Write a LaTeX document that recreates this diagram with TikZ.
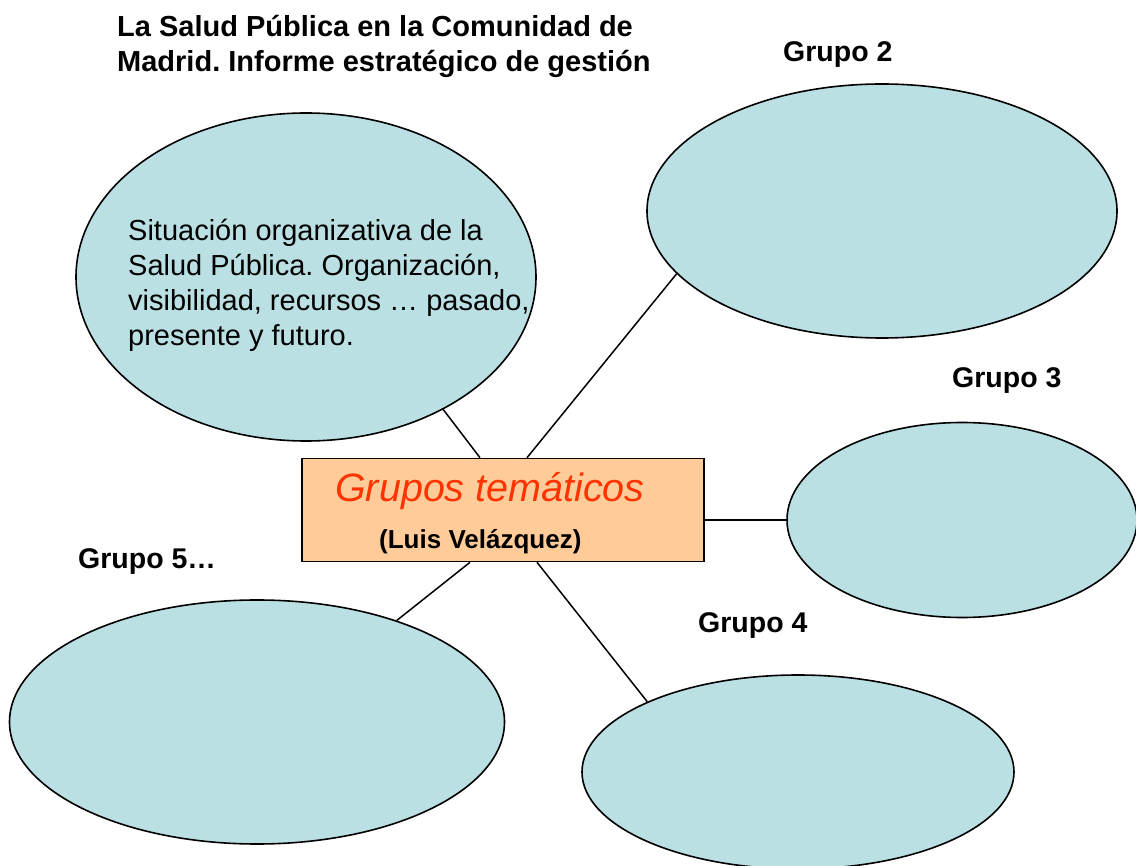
\documentclass[tikz,border=0pt]{standalone}
\usepackage{fontspec}
\setmainfont{Liberation Sans}
\usetikzlibrary{shapes.geometric}
\frenchspacing

\definecolor{grupofill}{HTML}{BBE0E3}
\definecolor{temafill}{HTML}{FFCC99}
\definecolor{temarojo}{HTML}{FF3300}

\begin{document}
\begin{tikzpicture}[x=1pt,y=-1pt,
    grupo/.style={ellipse,draw,line width=1.6pt,fill=grupofill,inner sep=0pt},
    etiqueta/.style={font=\fontsize{28.5}{34}\selectfont\bfseries,inner sep=0pt,anchor=base west},
    enlace/.style={line width=1.5pt}]
    \useasboundingbox (0,0) rectangle (1136,866);
    \node[grupo,minimum width=460pt,minimum height=328pt] (g1) at (306,277) {};
    \node[grupo,minimum width=470pt,minimum height=254pt] (g2) at (882,211) {};
    \node[grupo,minimum width=350pt,minimum height=195pt] (g3) at (962,520) {};
    \node[grupo,minimum width=432pt,minimum height=194pt] (g4) at (798,772) {};
    \node[grupo,minimum width=495pt,minimum height=244pt] (g5) at (257,722) {};
    \node[draw,line width=1.6pt,fill=temafill,inner sep=0pt,
      minimum width=402pt,minimum height=103pt] (tema) at (503,510) {};
    \node[anchor=base west,inner sep=0pt,text=temarojo,
      font=\fontsize{39.5}{46}\selectfont\itshape] (temas) at (335,502) {Grupos temáticos};
    \node[anchor=base west,inner sep=0pt,
      font=\fontsize{26}{31}\selectfont\bfseries] (autor) at (379,548) {(Luis Velázquez)};
    \node[anchor=north west,align=left,inner sep=0pt,
      font=\fontsize{29}{35}\selectfont] (g1texto) at (128,218.5)
      {Situación organizativa de la\\Salud Pública. Organización,\\visibilidad, recursos … pasado,\\presente y futuro.};
    \node[anchor=north west,align=left,inner sep=0pt,
      font=\fontsize{29}{35}\selectfont\bfseries] (titulo) at (117,15.5)
      {La Salud Pública en la Comunidad de\\Madrid. Informe estratégico de gestión};
    \node[etiqueta] (e2) at (783,62) {Grupo 2};
    \node[etiqueta] (e3) at (952,388) {Grupo 3};
    \node[etiqueta] (e4) at (698,632) {Grupo 4};
    \node[etiqueta] (e5) at (78,568) {Grupo 5…};
    \draw[enlace] ([xshift=-23pt]tema.north) -- (g1.-44.6);
    \draw[enlace] ([xshift=24pt]tema.north) -- (g2.-163.3);
    \draw[enlace] (g3.west -| tema.east) -- (g3.west);
    \draw[enlace] ([xshift=34pt]tema.south) -- (g4.155.4);
    \draw[enlace] ([xshift=-33pt]tema.south) -- (g5.36.2);
  \end{tikzpicture}
\end{document}
